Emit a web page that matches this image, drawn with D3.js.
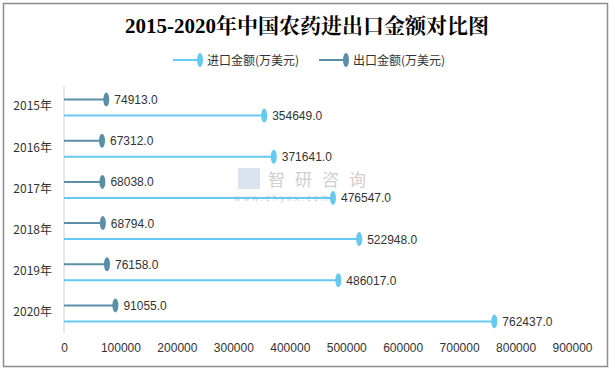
<!DOCTYPE html>
<html><head><meta charset="utf-8">
<script src="https://cdn.jsdelivr.net/npm/d3@7/dist/d3.min.js"></script>
<style>body{margin:0;background:#fff;}svg{display:block;}</style>
</head><body>
<svg id="c" width="615" height="370"></svg>
<script>
const years = ["2015年","2016年","2017年","2018年","2019年","2020年"];
const importVals = [354649.0, 371641.0, 476547.0, 522948.0, 486017.0, 762437.0];
const exportVals = [74913.0, 67312.0, 68038.0, 68794.0, 76158.0, 91055.0];
const xTicks = [0,100000,200000,300000,400000,500000,600000,700000,800000,900000];
const seriesNames = ["进口金额(万美元)","出口金额(万美元)"];
const colImport = "#66c9f2", colExport = "#5b8fa7";

const svg = d3.select("#c");
svg.append("rect").attr("x",3.5).attr("y",3.5).attr("width",604).attr("height",363)
  .attr("fill","#fff").attr("stroke","#8c8c8c").attr("stroke-width",1.5);

svg.append("text").attr("x",307).attr("y",33).attr("text-anchor","middle")
  .attr("font-family","'Liberation Serif','DejaVu Serif','Noto Serif CJK SC','Noto Sans CJK SC',serif")
  .attr("font-weight","bold").attr("font-size",21).attr("fill","#000")
  .text("2015-2020年中国农药进出口金额对比图");

// watermark
const wm = svg.append("g").attr("opacity",0.35);
wm.append("text").attr("x",268).attr("y",185.5).attr("font-family","'Noto Sans CJK SC',sans-serif")
  .attr("font-size",17).attr("fill","#777").attr("letter-spacing",10).text("智研咨询");
wm.append("rect").attr("x",238).attr("y",168).attr("width",22).attr("height",21).attr("fill","#9ab0d0");
wm.append("text").attr("x",234).attr("y",201).attr("font-family","'DejaVu Sans',sans-serif")
  .attr("font-size",8).attr("fill","#777").attr("letter-spacing",2.5).text("www.chyxx.com");

const x = d3.scaleLinear().domain([0,900000]).range([64,572]);
const y = d3.scaleBand().domain(years).range([86,333]);

// y axis line
svg.append("line").attr("x1",64).attr("x2",64).attr("y1",86).attr("y2",333)
  .attr("stroke","#d0d0d0").attr("stroke-width",1);

const xa = svg.append("g").attr("transform","translate(0,333)")
  .call(d3.axisBottom(x).tickValues(xTicks).tickFormat(d3.format("d")).tickSize(0).tickPadding(10));
xa.select(".domain").remove();
xa.selectAll("text").attr("font-family","'Liberation Sans','DejaVu Sans',sans-serif").attr("font-size",12).attr("fill","#333");

const ya = svg.append("g").attr("transform","translate(64,0)")
  .call(d3.axisLeft(y).tickSize(0).tickPadding(12));
ya.select(".domain").remove();
ya.selectAll("text").attr("font-family","'Noto Sans CJK SC','DejaVu Sans',sans-serif").attr("font-size",12).attr("fill","#333");

function series(vals, off, col){
  const g = svg.append("g");
  years.forEach((yr,i)=>{
    const cy = y(yr)+y.bandwidth()/2+off;
    g.append("line").attr("x1",x(0)).attr("x2",x(vals[i])).attr("y1",cy).attr("y2",cy)
      .attr("stroke",col).attr("stroke-width",2);
    g.append("ellipse").attr("cx",x(vals[i])).attr("cy",cy).attr("rx",3).attr("ry",7).attr("fill",col);
    g.append("text").attr("x",x(vals[i])+8).attr("y",cy+4.5)
      .attr("font-family","'Liberation Sans','DejaVu Sans',sans-serif").attr("font-size",12).attr("fill","#333")
      .text(vals[i].toFixed(1));
  });
}
series(exportVals,-7,colExport);
series(importVals,9,colImport);

// legend
const lg = svg.append("g");
[[173,colImport,seriesNames[0]],[319,colExport,seriesNames[1]]].forEach(([lx,c,t])=>{
  lg.append("line").attr("x1",lx).attr("x2",lx+27).attr("y1",60).attr("y2",60).attr("stroke",c).attr("stroke-width",2);
  lg.append("ellipse").attr("cx",lx+27).attr("cy",60).attr("rx",3).attr("ry",7).attr("fill",c);
  lg.append("text").attr("x",lx+34).attr("y",64.5).attr("font-family","'Noto Sans CJK SC',sans-serif")
    .attr("font-size",12).attr("fill","#333").text(t);
});
</script>
</body></html>
